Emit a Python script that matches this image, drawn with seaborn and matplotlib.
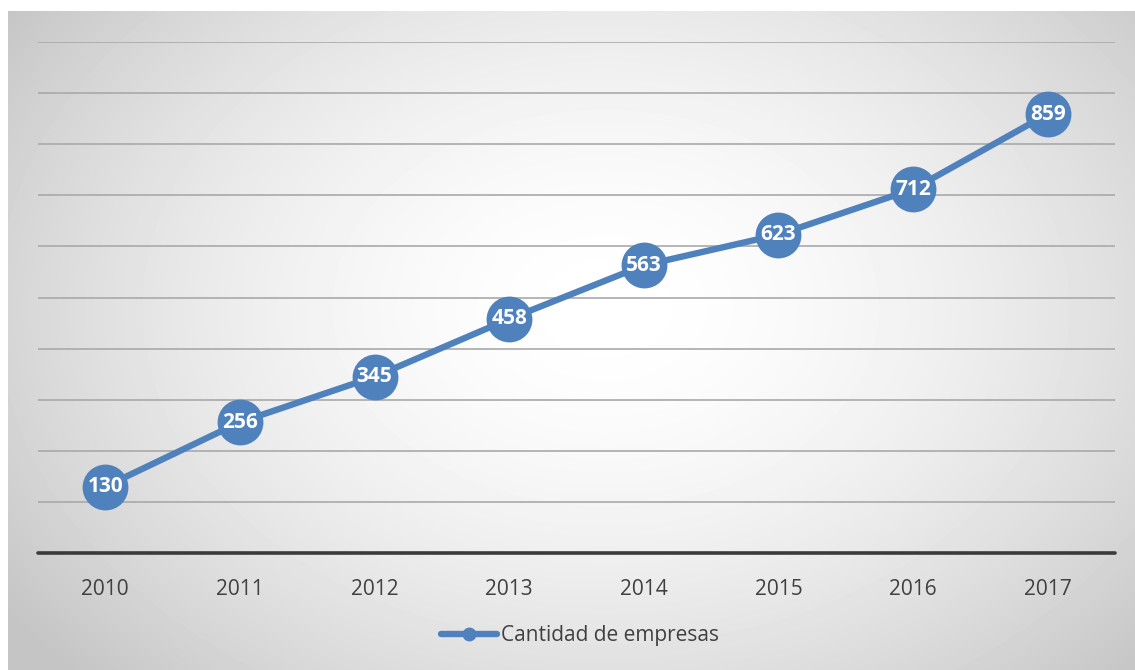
import numpy as np
import pandas as pd
import seaborn as sns
import matplotlib.pyplot as plt
from matplotlib.lines import Line2D

# data
anios = ['2010', '2011', '2012', '2013', '2014', '2015', '2016', '2017']
empresas = [130, 256, 345, 458, 563, 623, 712, 859]
serie = 'Cantidad de empresas'

df = pd.DataFrame({'anio': anios, 'empresas': empresas})

AZUL = '#4f81bd'
GRIS_TXT = '#404040'

sns.set_style('white')
plt.rcParams['font.family'] = ['Open Sans', 'DejaVu Sans']

W, H = 1135, 670
fig = plt.figure(figsize=(W / 100, H / 100), dpi=100)

# radial gradient background (white centre, grey edges)
bg = fig.add_axes([8 / W, 0, 1 - 8 / W, 1 - 11 / H], zorder=0)
bw, bh = W - 8, H - 11
yy, xx = np.mgrid[0:bh, 0:bw]
cx, cy = bw * 0.53, bh * 0.45
r = np.sqrt(((xx - cx) / (bw * 0.5)) ** 2 + ((yy - cy) / (bh * 0.62)) ** 2)
r = np.clip(r / 1.3, 0, 1)
v = 1.0 - 0.23 * r ** 1.7
bg.imshow(v, cmap='gray', vmin=0, vmax=1, aspect='auto', interpolation='bilinear')
bg.set_axis_off()

# plot area
ax = fig.add_axes([38 / W, (H - 553) / H, 1077 / W, 511 / H], zorder=1)
ax.patch.set_alpha(0)

sns.lineplot(data=df, x='anio', y='empresas', ax=ax, color=AZUL, linewidth=4.6,
             marker='o', markersize=33, markeredgewidth=0, zorder=3, legend=False)

for i, val in enumerate(empresas):
    ax.text(i, val, str(val), ha='center', va='center', color='white',
            fontsize=15, fontweight='bold', zorder=4)

ax.set_xlim(-0.5, len(anios) - 0.5)
ax.set_ylim(0, 1000)
ax.set_yticks(range(100, 1001, 100))
ax.yaxis.grid(True, color='#a9a9a9', linewidth=1.2)
ax.set_axisbelow(True)
ax.axhline(0, color='#3a3a3a', linewidth=2.6, zorder=2, clip_on=False)
for s in ax.spines.values():
    s.set_visible(False)
ax.tick_params(axis='y', left=False, labelleft=False)
ax.tick_params(axis='x', bottom=False, labelsize=15, labelcolor=GRIS_TXT, pad=15)
ax.set_xlabel('')
ax.set_ylabel('')

handle = Line2D([], [], color=AZUL, linewidth=4.6, marker='o', markersize=9)
fig.legend([handle], [serie], loc='center', bbox_to_anchor=(580 / W, 1 - 636 / H),
           frameon=False, fontsize=15, labelcolor=GRIS_TXT, handlelength=2.7,
           handletextpad=0.2)

fig.savefig('out.png', dpi=100)
